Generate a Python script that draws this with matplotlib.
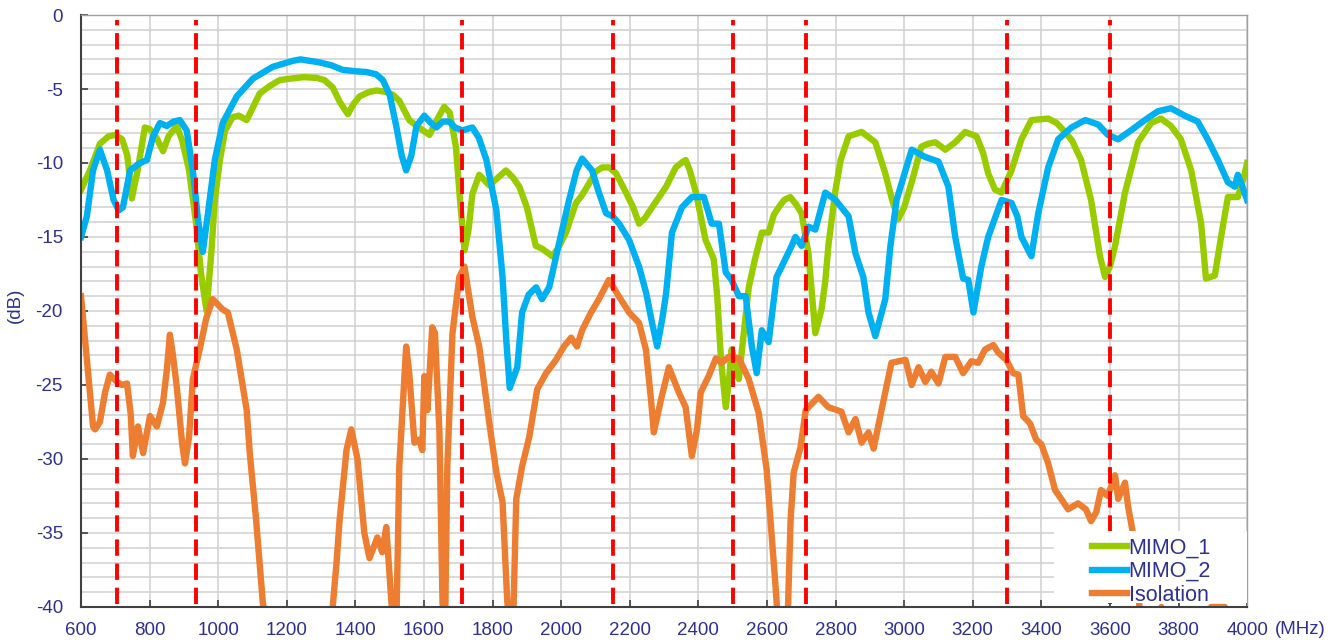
import numpy as np
import matplotlib.pyplot as plt
from matplotlib.patches import Rectangle

# frequency (MHz) / level (dB)
mimo1_f = [600, 626, 655, 680, 700, 720, 735, 748, 765, 786, 800, 820, 839, 855, 879, 895, 915, 935, 950, 966,
           980, 990, 1005, 1020, 1042, 1060, 1083, 1100, 1121, 1150, 1179, 1210, 1250, 1287, 1310, 1334, 1355, 1378, 1395, 1412,
           1440, 1461, 1490, 1510, 1528, 1557, 1585, 1616, 1635, 1659, 1675, 1693, 1705, 1718, 1730, 1741, 1761, 1790, 1815, 1839,
           1860, 1878, 1900, 1926, 1945, 1974, 1990, 2014, 2043, 2060, 2081, 2100, 2119, 2140, 2160, 2189, 2210, 2227, 2245, 2265,
           2306, 2334, 2350, 2363, 2375, 2393, 2421, 2445, 2455, 2466, 2480, 2490, 2497, 2508, 2518, 2530, 2547, 2565, 2585, 2605,
           2620, 2634, 2650, 2668, 2685, 2701, 2721, 2741, 2759, 2770, 2780, 2800, 2815, 2838, 2876, 2916, 2945, 2965, 2983, 3000,
           3022, 3050, 3070, 3091, 3120, 3149, 3178, 3211, 3230, 3245, 3265, 3284, 3313, 3342, 3371, 3420, 3445, 3469, 3490, 3516,
           3545, 3571, 3586, 3600, 3615, 3644, 3682, 3720, 3749, 3778, 3807, 3837, 3866, 3880, 3906, 3924, 3944, 3973, 3990, 4000]
mimo1_db = [-11.8, -10.5, -8.7, -8.2, -8.1, -8.4, -9.5, -12.4, -10.5, -7.6, -7.7, -8.3, -9.2, -8.2, -7.5, -8.5, -10.5, -14.0, -17.5, -20.0,
            -16.0, -12.5, -9.8, -7.8, -6.9, -6.8, -7.1, -6.3, -5.3, -4.8, -4.4, -4.3, -4.2, -4.25, -4.4, -4.9, -5.9, -6.7, -6.0, -5.5,
            -5.2, -5.1, -5.2, -5.4, -5.8, -7.1, -7.6, -8.1, -7.2, -6.2, -6.6, -8.9, -12.5, -15.9, -14.5, -12.1, -10.8, -11.5, -11.0, -10.5,
            -11.0, -11.6, -13.0, -15.6, -15.8, -16.3, -15.8, -14.7, -12.7, -12.2, -11.4, -10.6, -10.3, -10.3, -10.7, -12.0, -13.0, -14.1, -13.7, -13.0,
            -11.6, -10.3, -10.0, -9.8, -10.5, -12.0, -15.2, -16.5, -19.0, -23.3, -26.5, -24.5, -22.6, -23.5, -24.6, -22.0, -18.4, -16.5, -14.7, -14.7,
            -13.5, -13.0, -12.5, -12.3, -12.8, -13.4, -16.1, -21.5, -19.9, -18.0, -15.4, -11.8, -9.8, -8.2, -7.9, -8.6, -10.7, -12.5, -13.8, -13.0,
            -11.3, -8.9, -8.7, -8.6, -9.1, -8.6, -7.9, -8.2, -9.3, -10.7, -11.8, -12.0, -10.5, -8.4, -7.1, -7.0, -7.3, -7.9, -8.5, -9.8,
            -12.5, -16.3, -17.7, -17.0, -15.6, -12.0, -8.6, -7.3, -7.0, -7.5, -8.4, -10.5, -14.1, -17.8, -17.6, -15.0, -12.3, -12.3, -11.0, -10.0]

mimo2_f = [600, 617, 635, 655, 676, 695, 710, 722, 743, 772, 792, 810, 830, 850, 870, 888, 908, 926, 941, 955,
           970, 990, 1013, 1054, 1101, 1159, 1217, 1240, 1295, 1330, 1362, 1400, 1432, 1460, 1480, 1500, 1519, 1535, 1548, 1563,
           1578, 1601, 1620, 1636, 1655, 1674, 1690, 1712, 1741, 1760, 1782, 1811, 1829, 1840, 1850, 1872, 1886, 1905, 1927, 1944,
           1965, 1994, 2023, 2045, 2061, 2090, 2110, 2131, 2150, 2169, 2198, 2227, 2248, 2265, 2280, 2295, 2306, 2323, 2352, 2381,
           2416, 2439, 2460, 2480, 2497, 2518, 2538, 2556, 2570, 2585, 2605, 2628, 2643, 2672, 2683, 2701, 2721, 2741, 2770, 2800,
           2838, 2858, 2881, 2896, 2916, 2945, 2960, 2978, 3004, 3022, 3062, 3100, 3129, 3149, 3172, 3187, 3202, 3225, 3245, 3284,
           3313, 3330, 3342, 3371, 3391, 3420, 3449, 3488, 3528, 3566, 3594, 3624, 3661, 3702, 3740, 3778, 3818, 3856, 3885, 3915,
           3944, 3964, 3973, 3985, 4000]
mimo2_db = [-15.0, -13.6, -10.5, -9.1, -10.5, -12.5, -13.2, -13.0, -10.5, -10.0, -9.8, -8.2, -7.3, -7.5, -7.2, -7.1, -7.8, -10.5, -13.8, -16.0,
            -13.4, -9.8, -7.3, -5.5, -4.3, -3.5, -3.1, -3.0, -3.2, -3.4, -3.7, -3.8, -3.85, -4.0, -4.4, -5.4, -7.5, -9.5, -10.5, -9.5,
            -7.5, -6.8, -7.3, -7.6, -7.2, -7.2, -7.6, -7.8, -7.6, -8.3, -9.8, -13.2, -17.7, -22.0, -25.2, -23.8, -20.1, -18.9, -18.4, -19.2,
            -18.4, -15.4, -12.5, -10.5, -9.7, -10.5, -12.0, -13.4, -13.6, -14.1, -15.2, -17.0, -18.8, -20.8, -22.4, -20.5, -18.8, -14.7, -13.0, -12.3,
            -12.3, -14.1, -14.1, -17.4, -17.9, -19.0, -19.0, -22.4, -24.2, -21.3, -22.1, -17.7, -17.0, -15.6, -15.0, -15.6, -14.3, -14.5, -12.0, -12.5,
            -13.6, -16.1, -17.7, -20.1, -21.7, -19.2, -15.6, -12.5, -10.5, -9.1, -9.6, -9.9, -11.6, -15.0, -17.8, -17.9, -20.1, -17.0, -15.0, -12.5,
            -12.7, -13.6, -15.0, -16.3, -13.4, -10.3, -8.4, -7.6, -7.1, -7.4, -8.1, -8.4, -7.8, -7.1, -6.5, -6.3, -6.8, -7.2, -8.4, -9.8,
            -11.3, -11.6, -10.8, -11.5, -12.5]

iso_f = [600, 617, 635, 641, 655, 670, 684, 705, 720, 734, 745, 751, 766, 781, 801, 821, 839, 850, 859, 868,
         879, 895, 903, 915, 926, 946, 965, 984, 1013, 1028, 1054, 1083, 1092, 1110, 1130, 1140, 1330, 1345, 1354, 1374,
         1388, 1406, 1426, 1441, 1464, 1478, 1490, 1505, 1512, 1520, 1528, 1548, 1557, 1572, 1586, 1595, 1601, 1610, 1624, 1632,
         1645, 1654, 1658, 1662, 1668, 1683, 1703, 1718, 1741, 1761, 1790, 1811, 1829, 1843, 1850, 1860, 1869, 1886, 1907, 1930,
         1956, 1985, 2008, 2029, 2046, 2061, 2087, 2110, 2139, 2168, 2198, 2227, 2247, 2262, 2270, 2291, 2314, 2343, 2363, 2381,
         2396, 2407, 2430, 2451, 2468, 2489, 2518, 2547, 2576, 2599, 2625, 2632, 2660, 2669, 2678, 2698, 2713, 2750, 2779, 2817,
         2838, 2858, 2876, 2896, 2911, 2934, 2963, 3004, 3022, 3042, 3062, 3079, 3100, 3120, 3149, 3172, 3196, 3216, 3236, 3260,
         3274, 3298, 3318, 3333, 3347, 3367, 3385, 3400, 3420, 3440, 3458, 3478, 3507, 3530, 3545, 3560, 3574, 3594, 3615, 3624,
         3644, 3653, 3667, 3690, 3735, 3750, 3765, 3880, 3895, 3935, 3950, 4000]
iso_db = [-19.0, -23.3, -27.8, -28.0, -27.5, -25.5, -24.3, -24.8, -25.0, -24.9, -27.0, -29.8, -27.8, -29.6, -27.1, -27.8, -26.2, -24.0, -21.6, -23.0,
          -25.1, -29.0, -30.3, -28.5, -24.6, -22.6, -20.5, -19.2, -19.9, -20.1, -22.6, -26.7, -29.6, -34.0, -39.7, -41.0, -41.0, -37.0, -34.1, -29.4,
          -28.0, -30.0, -35.0, -36.7, -35.3, -36.3, -34.6, -39.7, -41.0, -40.5, -30.5, -22.4, -24.2, -28.9, -28.7, -29.4, -24.4, -26.7, -21.1, -21.5,
          -28.2, -39.7, -41.0, -40.5, -30.5, -21.5, -17.7, -17.0, -20.4, -22.4, -27.5, -30.9, -32.9, -39.7, -41.0, -41.0, -32.7, -30.5, -28.5, -25.3,
          -24.2, -23.3, -22.4, -21.8, -22.4, -21.3, -20.1, -19.2, -17.9, -19.0, -20.1, -20.8, -22.6, -26.0, -28.2, -26.0, -23.8, -25.5, -26.5, -29.8,
          -28.0, -25.5, -24.4, -23.2, -23.5, -23.1, -23.2, -24.6, -26.9, -30.7, -38.6, -41.0, -41.0, -34.1, -30.9, -29.2, -26.7, -25.8, -26.5, -26.8,
          -28.2, -27.3, -28.9, -28.2, -29.3, -26.7, -23.5, -23.3, -25.0, -23.8, -24.8, -24.1, -24.9, -23.1, -23.1, -24.2, -23.4, -23.5, -22.6, -22.3,
          -22.8, -23.3, -24.2, -24.3, -27.1, -27.6, -28.7, -29.0, -30.3, -32.1, -32.7, -33.4, -33.0, -33.4, -34.2, -33.6, -32.1, -32.5, -31.1, -32.7,
          -31.6, -33.2, -35.0, -41.0, -41.0, -40.0, -41.0, -41.0, -40.0, -40.0, -41.0, -41.0]

band_edges = [705, 935, 1710, 2150, 2500, 2715, 3300, 3600]

navy = '#2E3092'
plt.rcParams['font.family'] = ['Liberation Sans', 'DejaVu Sans']
plt.rcParams['font.size'] = 13.5
plt.rcParams['axes.unicode_minus'] = False

fig = plt.figure(figsize=(13.44, 6.44), dpi=100)
ax = fig.add_axes([0.0603, 0.0575, 0.8676, 0.9192])

ax.plot(mimo1_f, mimo1_db, color='#99CC00', lw=4.6, label='MIMO_1', zorder=2, solid_joinstyle='round')
ax.plot(mimo2_f, mimo2_db, color='#00B0F0', lw=4.6, label='MIMO_2', zorder=2.1, solid_joinstyle='round')
ax.plot(iso_f, iso_db, color='#ED7D31', lw=4.6, label='Isolation', zorder=2.2, solid_joinstyle='round')

for f in band_edges:
    ax.plot([f, f], [-39.8, -0.35], color='#FF0000', lw=2.8, dashes=(4.2, 2.0), zorder=3)

ax.set_xlim(600, 4000)
ax.set_ylim(-40, 0)
ax.set_xticks(np.arange(600, 4001, 200))
ax.set_yticks(np.arange(-40, 1, 5))
ax.set_yticks(np.arange(-40, 1, 1), minor=True)
ax.set_axisbelow(True)
ax.grid(True, which='both', color='#D0D0D0', lw=1.1)
ax.tick_params(which='major', direction='in', length=5, width=1.2, color='#404040',
               labelcolor=navy, labelsize=13.5)
ax.tick_params(axis='x', pad=11)
ax.tick_params(axis='y', pad=13)
ax.tick_params(which='minor', length=0)

for s in ['left', 'bottom']:
    ax.spines[s].set_color('#404040')
    ax.spines[s].set_linewidth(1.5)
for s in ['top', 'right']:
    ax.spines[s].set_color('#A0A0A0')
    ax.spines[s].set_linewidth(1.0)

# white box behind the legend, as in the reference
ax.add_patch(Rectangle((0.834, 0.006), 0.166, 0.122, transform=ax.transAxes,
                       facecolor='white', edgecolor='none', zorder=4))
leg = ax.legend(loc='lower left', bbox_to_anchor=(0.856, -0.02), frameon=False,
                handlelength=1.6, handletextpad=0.1, labelspacing=0.13, fontsize=15.5,
                borderaxespad=0.2)
leg.set_zorder(5)
for t in leg.get_texts():
    t.set_color(navy)

fig.text(15 / 1344, 1 - 305 / 644, '(dB)', rotation=90, ha='center', va='center', color=navy, fontsize=13.5)
fig.text(1300 / 1344, 1 - 630 / 644, '(MHz)', ha='center', va='center', color=navy, fontsize=13.5)

plt.savefig('out.png', dpi=100)
